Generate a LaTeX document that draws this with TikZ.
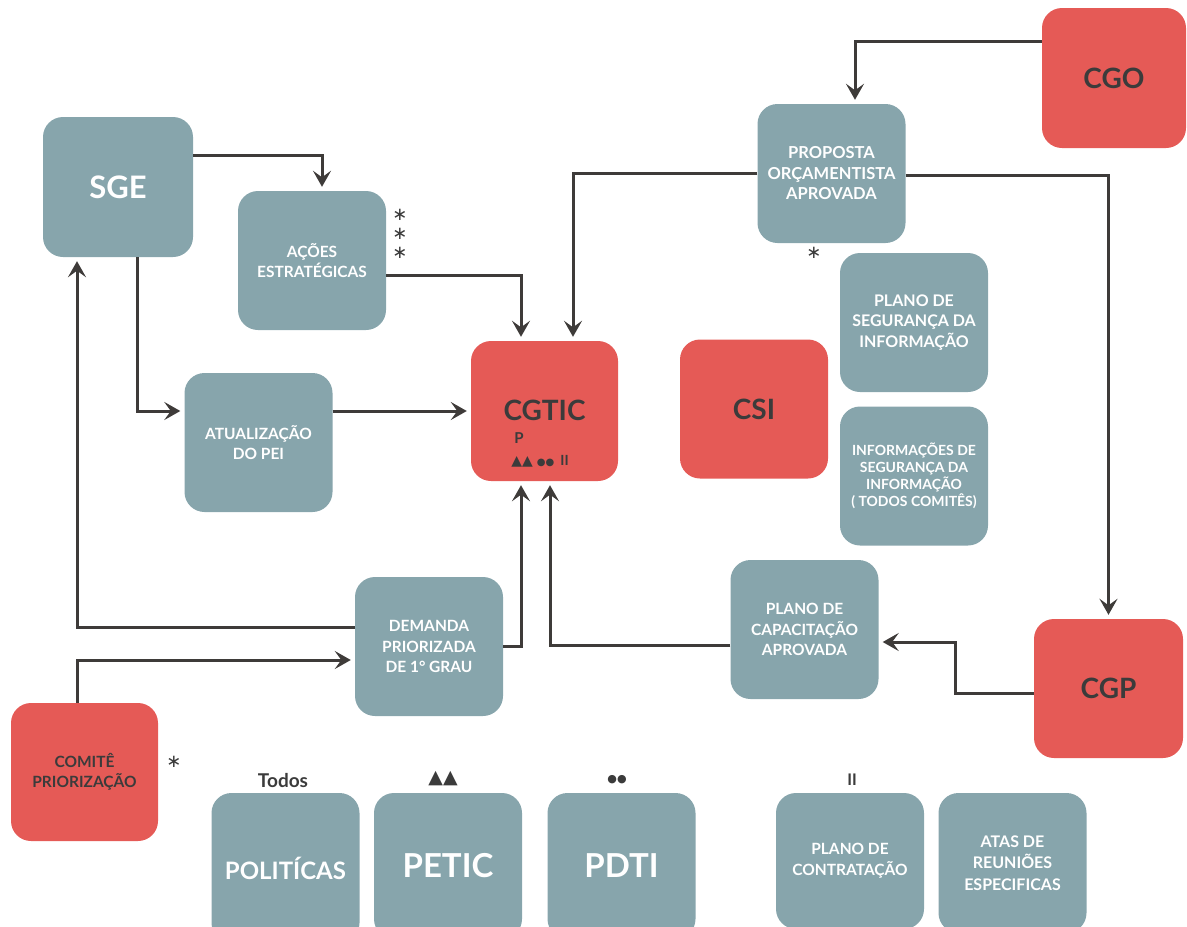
\documentclass[tikz,border=0pt]{standalone}
\usepackage{fontspec}
\setmainfont{Lato}
\newfontfamily\symfont{DejaVu Sans}
\usetikzlibrary{arrows.meta}

\definecolor{boxteal}{HTML}{87A5AC}
\definecolor{boxred}{HTML}{E55A56}
\definecolor{inkdark}{HTML}{3B3B3B}
\definecolor{linedark}{HTML}{3E3B39}

\tikzset{
  base/.style={rounded corners=20pt, inner sep=0pt, align=center,
    minimum width=148pt, minimum height=139pt},
  tealbox/.style={base, fill=boxteal, text=white},
  redbox/.style={base, fill=boxred, text=inkdark},
  small/.style={font=\bfseries\fontsize{15.5}{20.5}\selectfont},
  smaller/.style={font=\bfseries\fontsize{14}{17}\selectfont},
  medium/.style={font=\bfseries\fontsize{16}{21.5}\selectfont},
  big/.style={font=\bfseries\fontsize{28}{32}\selectfont},
  huge/.style={font=\bfseries\fontsize{33}{36}\selectfont},
  conn/.style={draw=linedark, line width=3pt, shorten >=4pt,
    -{Stealth[length=16pt, width=18pt, inset=6.5pt]}},
  sign/.style={text=inkdark, inner sep=0pt},
  star/.style={sign, font=\symfont\fontsize{18}{18}\selectfont},
}

\begin{document}
\begin{tikzpicture}[x=1pt, y=-1pt]
\useasboundingbox (0,0) rectangle (1187,927);
\clip (0,0) rectangle (1187,927);

% main boxes
\node[tealbox, font=\bfseries\fontsize{31}{34}\selectfont, minimum width=150pt, minimum height=140pt] (sge) at (118,187) {SGE};
\node[tealbox, small] (acoes) at (312,260.5) {AÇÕES\\ESTRATÉGICAS};
\node[tealbox, small] (atual) at (258.5,442.5) {ATUALIZAÇÃO\\DO PEI};
\node[redbox, minimum width=147pt, minimum height=140pt] (cgtic) at (544.5,411) {};
\node[sign, big] (cgticname) at (544.5,410) {CGTIC};
\node[sign, font=\bfseries\fontsize{15}{16}\selectfont] (cgticp) at (519,438) {P};
\node[sign, font=\fontsize{14}{16}\selectfont] (cgticsym) at (540,461)
  {{\symfont ▲▲}\hspace{4pt}{\symfont\fontsize{10}{11}\selectfont ●●}\hspace{6pt}{\bfseries II}};
\node[redbox, big] (csi) at (754,409) {CSI};
\node[tealbox, font=\bfseries\fontsize{16}{20.5}\selectfont] (pseg) at (914,322.5) {PLANO DE\\SEGURANÇA DA\\INFORMAÇÃO};
\node[tealbox, smaller] (iseg) at (914,476) {INFORMAÇÕES DE\\SEGURANÇA DA\\INFORMAÇÃO\\( TODOS COMITÊS)};
\node[tealbox, font=\bfseries\fontsize{16.5}{20.5}\selectfont] (prop) at (831.5,173.5) {PROPOSTA\\ORÇAMENTISTA\\APROVADA};
\node[redbox, big, minimum width=144pt, minimum height=140pt] (cgo) at (1114,78) {CGO};
\node[tealbox, small] (pcap) at (804.5,629.5) {PLANO DE\\CAPACITAÇÃO\\APROVADA};
\node[redbox, big, minimum width=149pt] (cgp) at (1108.5,688.5) {CGP};
\node[tealbox, small] (dem) at (429,646.5) {DEMANDA\\PRIORIZADA\\DE 1° GRAU};
\node[redbox, small, minimum width=147pt, minimum height=138pt] (com) at (84.5,772) {COMITÊ\\PRIORIZAÇÃO};

% document boxes along the bottom
\node[tealbox, font=\bfseries\fontsize{24}{26}\selectfont, minimum height=150pt] (pol) at (285.5,868) {POLITÍCAS};
\node[tealbox, huge, minimum height=146pt] (petic) at (448,866) {PETIC};
\node[tealbox, huge, minimum height=146pt] (pdti) at (621.5,866) {PDTI};
\node[tealbox, font=\bfseries\fontsize{15.5}{21}\selectfont, minimum height=136pt] (pcont) at (850,861) {PLANO DE\\CONTRATAÇÃO};
\node[tealbox, medium, minimum height=140pt] (atas) at (1012.5,863) {ATAS DE\\REUNIÕES\\ESPECIFICAS};

% markers above the bottom boxes
\node[sign, font=\bfseries\fontsize{19}{20}\selectfont] (todos) at (283,781) {Todos};
\node[sign, font=\symfont\fontsize{19}{20}\selectfont] (tri) at (443,779) {▲▲};
\node[sign, font=\symfont\fontsize{11}{12}\selectfont] (dots) at (617,780) {●●};
\node[sign, font=\bfseries\fontsize{16}{17}\selectfont] (bars) at (852,780) {II};

% asterisks
\node[star] (ast1) at (400,215) {∗};
\node[star] (ast2) at (400,234) {∗};
\node[star] (ast3) at (400,253) {∗};
\node[star] (ast4) at (814,253) {∗};
\node[star] (ast5) at (174,762) {∗};

% connectors
\draw[conn] ([yshift=32pt]sge.east) -| ([xshift=10pt]acoes.north);
\draw[conn] ([yshift=-15pt]acoes.east) -| ([xshift=-23.5pt]cgtic.north);
\draw[conn] (prop.west) -| ([xshift=28.5pt]cgtic.north);
\draw[conn] ([yshift=37pt]cgo.west) -| ([xshift=23.5pt]prop.north);
\draw[conn] ([yshift=-1.5pt]prop.east) -| (cgp.north);
\draw[conn] ([xshift=19pt]sge.south) |- (atual.west |- cgtic.west);
\draw[conn] (atual.east |- cgtic.west) -- (cgtic.west);
\draw[conn] ([yshift=19.5pt]dem.west) -| ([xshift=-41pt]sge.south);
\draw[conn] ([xshift=-7.5pt]com.north) |- ([yshift=-13.5pt]dem.west);
\draw[conn] (dem.east) -| ([xshift=-23.5pt]cgtic.south);
\draw[conn] ([yshift=-15.5pt]pcap.west) -| ([xshift=5.5pt]cgtic.south);
\coordinate (cgpbend) at (955,0);
\coordinate (pcapin) at ([yshift=-12.5pt]pcap.east);
\draw[conn] ([yshift=-4.5pt]cgp.west) -| (cgpbend |- pcapin) -- (pcapin);

\end{tikzpicture}
\end{document}
